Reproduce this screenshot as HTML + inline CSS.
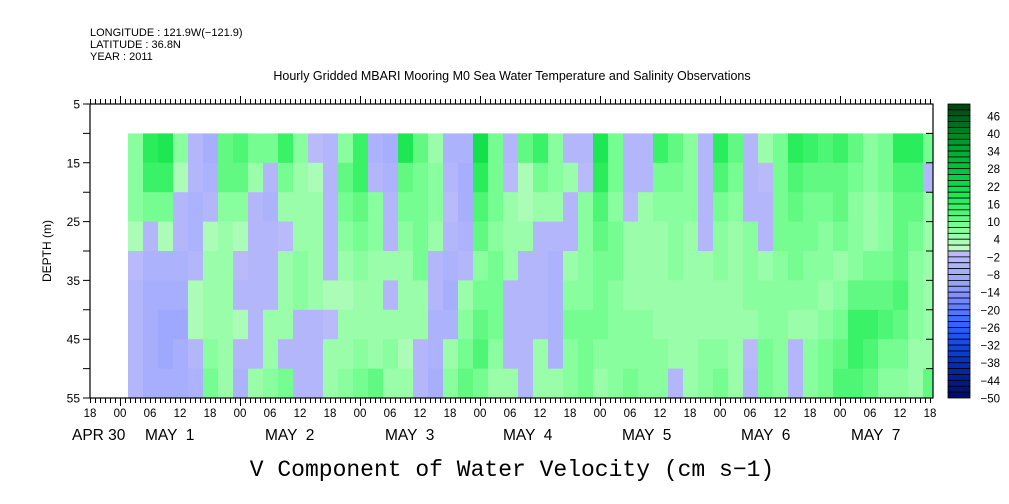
<!DOCTYPE html>
<html><head><meta charset="utf-8"><style>
body{margin:0;background:#fff;}
svg{display:block;font-family:"Liberation Sans",sans-serif;}
</style></head><body>
<svg id="chart" width="1009" height="504" viewBox="0 0 1009 504" xmlns="http://www.w3.org/2000/svg">
<g font-size="11" fill="#000">
<text x="90" y="36">LONGITUDE : 121.9W(−121.9)</text>
<text x="90" y="48">LATITUDE : 36.8N</text>
<text x="90" y="60">YEAR : 2011</text>
</g>
<text x="512" y="80" text-anchor="middle" font-size="12.5">Hourly Gridded MBARI Mooring M0 Sea Water Temperature and Salinity Observations</text>
<g id="cells"></g>
<g id="axes"></g>
<g id="cbar"></g>
<text transform="translate(51,251) rotate(-90)" text-anchor="middle" font-size="12">DEPTH (m)</text>
<text x="512" y="476" text-anchor="middle" font-family="Liberation Mono,monospace" font-size="23">V Component of Water Velocity (cm s−1)</text>
</svg>
<script>
// time in hours from APR 30 18:00; each column is 3 hours starting at hour 7.6
const colStartHour = 7.6;
const colHours = 3;
const depthRows = [10,15,20,25,30,35,40,45,50];
const r0 = [6,16,18,6,-4,-8,10,12,8,8,14,6,-2,-4,6,14,-6,-8,18,10,4,-6,-6,20,8,-4,10,14,6,-4,-4,18,8,-4,-4,14,10,6,-4,16,10,-4,4,8,16,14,12,14,10,6,8,16,16,8];
const r1 = [6,14,14,2,-4,-6,10,10,4,-4,8,4,2,-4,10,14,-4,-6,10,8,6,-4,-8,16,8,-2,2,8,6,4,-2,16,8,-4,-4,8,8,6,-4,12,8,-4,-2,8,12,10,10,10,8,6,8,12,12,-4];
const r2 = [6,8,8,-4,-6,-4,6,6,-4,-6,4,4,4,-4,8,10,6,-4,8,8,6,-2,-8,12,8,4,2,4,4,-4,6,12,6,-2,4,6,6,6,-4,8,6,-4,-4,8,10,8,8,10,6,4,6,10,10,4];
const r3 = [2,-4,2,-4,-6,2,4,2,-4,-4,-2,4,4,-4,6,8,6,-4,6,8,4,-4,-6,10,6,4,4,-4,-4,-4,6,10,8,4,4,4,6,4,-4,6,4,6,-4,8,8,8,6,8,6,4,6,10,8,4];
const r4 = [-2,-6,-6,-6,-4,4,4,-2,-4,-4,4,6,4,-4,4,6,4,4,4,8,-4,-6,-4,6,8,4,-4,-4,-6,4,6,8,8,4,4,4,6,4,4,6,4,6,4,6,8,6,6,4,6,8,8,10,6,4];
const r5 = [-4,-8,-8,-8,2,4,4,-4,-4,-4,4,6,4,2,2,4,4,-4,4,4,-4,-8,4,8,8,-4,-4,-4,-6,6,6,8,6,4,4,4,4,4,4,4,4,6,6,6,6,6,4,6,10,10,10,12,6,4];
const r6 = [-4,-8,-10,-10,2,4,4,2,-4,4,4,-4,-4,-2,4,4,4,4,4,4,-6,-6,6,10,8,-4,-4,-4,-6,8,8,8,6,6,6,4,4,4,4,4,4,4,6,6,4,4,6,8,14,14,12,10,6,4];
const r7 = [-4,-8,-10,-8,-4,6,4,-4,-4,4,-4,-4,-4,4,4,6,4,6,2,-4,-6,4,8,12,6,-4,-4,4,-6,6,8,6,6,6,6,6,4,4,6,6,4,-2,8,6,-4,6,8,10,14,12,8,8,4,4];
const r8 = [-4,-8,-8,-8,-6,8,4,-6,4,6,8,-4,-4,4,6,8,10,4,4,-4,-8,6,10,8,4,4,-4,4,4,6,8,4,6,8,6,6,-4,4,6,8,4,-4,8,6,-4,6,8,12,12,10,6,6,4,10];
const grid = [r0,r1,r2,r3,r4,r5,r6,r7,r8];
const cbarLabels = [46,40,34,28,22,16,10,4,-2,-8,-14,-20,-26,-32,-38,-44,-50];
const xTickLabels = ["18","00","06","12"];
const dayLabels = ["APR 30","MAY  1","MAY  2","MAY  3","MAY  4","MAY  5","MAY  6","MAY  7"];
const yTickLabels = [5,15,25,35,45,55];

const NS="http://www.w3.org/2000/svg";
const X0=90, X1=933, Y0=104, Y1=398, PXH=5;
const xs = h => X0 + h*PXH;          // hours since APR 30 18:00
const ys = d => Y0 + (d-5)*(Y1-Y0)/50; // depth 5..55
function mk(tag,attrs,parent){const e=document.createElementNS(NS,tag);for(const k in attrs)e.setAttribute(k,attrs[k]);parent.appendChild(e);return e;}
function hex(c){return [parseInt(c.slice(1,3),16),parseInt(c.slice(3,5),16),parseInt(c.slice(5,7),16)];}
const posStops=[[0,"#c4fac8"],[8,"#80ff98"],[16,"#30f060"],[24,"#00d840"],[36,"#00a030"],[50,"#004010"]];
const negStops=[[0,"#bcbcf8"],[8,"#a4acff"],[14,"#8896ff"],[26,"#2860ff"],[38,"#0030c0"],[50,"#000a60"]];
function interp(stops,v){for(let i=0;i<stops.length-1;i++){const[a,ca]=stops[i],[b,cb]=stops[i+1];if(v<=b){const t=(v-a)/(b-a),A=hex(ca),B=hex(cb);return "rgb("+A.map((x,j)=>Math.round(x+(B[j]-x)*t)).join(",")+")";}}return stops[stops.length-1][1];}
function color(v){const b=Math.max(-50,Math.min(48,Math.floor(v/2)*2));const c=b+1;return c>0?interp(posStops,c):interp(negStops,-c);}

const cells=document.getElementById('cells');
grid.forEach((row,ri)=>{
  row.forEach((v,ci)=>{
    const h0=colStartHour+ci*colHours;
    const x=xs(h0), w=Math.min(xs(h0+colHours),X1)-x;
    if(w<=0)return;
    const r=mk('rect',{x:x,y:ys(depthRows[ri]),width:w+0.4,height:ys(depthRows[ri]+5)-ys(depthRows[ri])+0.4,fill:color(v)},cells);
    
    
  });
});

const ax=document.getElementById('axes');
const fr=mk('rect',{x:X0,y:Y0,width:X1-X0,height:Y1-Y0,fill:'none',stroke:'#000','stroke-width':1.2},ax);


let tp="";
for(let h=0;h*PXH+X0<=X1+0.1;h++){
  const x=xs(h)+0.5;const big=(h%24===6);const len=big?8:5;
  tp+=`M${x} ${Y0}v${-len}M${x} ${Y1}v${len}`;
}
for(let d=5;d<=55;d+=5){const y=ys(d);tp+=`M${X0} ${y}h-7M${X1} ${y}h-7`;}
const tk=mk('path',{d:tp,stroke:'#000','stroke-width':1,fill:'none'},ax);


for(let h=0;X0+h*PXH<=X1;h+=6){
  const t=mk('text',{x:xs(h),y:417,'text-anchor':'middle','font-size':11.5},ax);
  t.textContent=xTickLabels[(h/6)%4];
  
  
}
const dayX=[72,145,265,385,503,622,741,851];
dayLabels.forEach((s,i)=>{
  const t=mk('text',{x:dayX[i],y:440,'font-size':15.5},ax);
  t.style.whiteSpace='pre';
  t.textContent=s;
  
  
});
yTickLabels.forEach(d=>{
  const t=mk('text',{x:80,y:ys(d)+4.5,'text-anchor':'end','font-size':12},ax);
  t.textContent=d;
  
  
});

const cb=document.getElementById('cbar');
const CX=948,CW=22,bh=(Y1-Y0)/50;
for(let i=0;i<50;i++){
  const vTop=50-2*i;
  const r=mk('rect',{x:CX,y:Y0+i*bh,width:CW,height:bh,fill:color(vTop-1),stroke:'#000','stroke-width':0.8},cb);
  
  
}
cbarLabels.forEach(L=>{
  const y=Y0+(50-L)/2*bh;
  const t=mk('text',{x:1000,y:y+4.5,'text-anchor':'end','font-size':11.5},cb);
  t.textContent=L<0?"−"+(-L):String(L);
  
  
});
</script>
</body></html>
